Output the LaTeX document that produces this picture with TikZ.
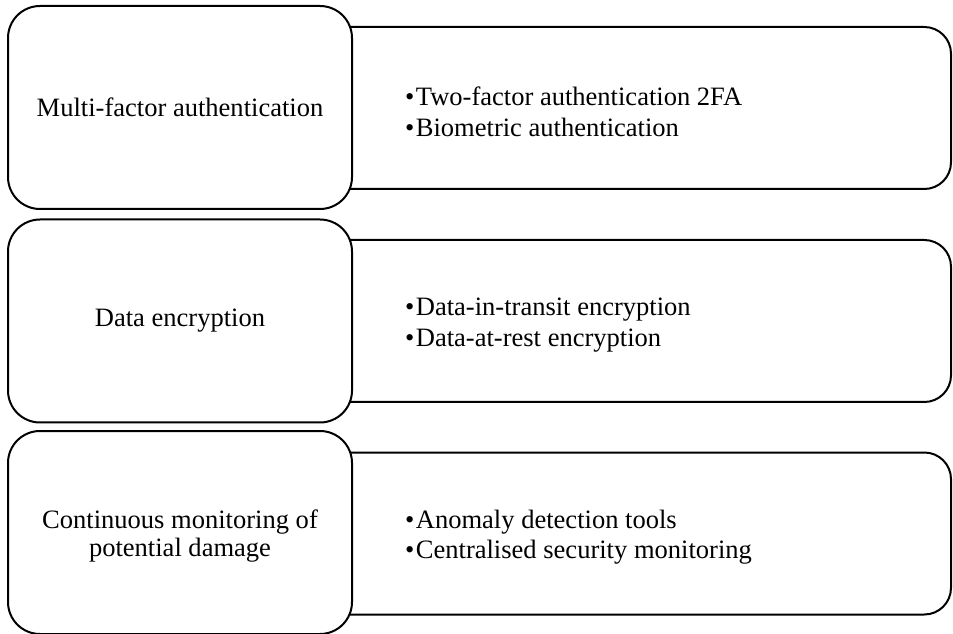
\documentclass[tikz,border=0pt]{standalone}
\usepackage{fontspec}
\setmainfont{Liberation Serif}
\begin{document}
\begin{tikzpicture}[x=0.75pt,y=-0.75pt,
  line width=1.5pt,
  leftbox/.style={draw=black, fill=white, rounded corners=24pt, minimum width=258pt, minimum height=152.25pt, align=center, inner sep=0pt, font=\fontsize{19.9}{20.5}\selectfont},
  rightbox/.style={draw=black, fill=white, rounded corners=20pt, minimum width=488.25pt, minimum height=121.5pt, inner sep=0pt},
  bullets/.style={anchor=west, align=left, inner sep=0pt, font=\fontsize{19.9}{23}\selectfont}]
\useasboundingbox (0,0) rectangle (953,634);
% right boxes (left part hidden behind the left boxes)
\node[rightbox] (r1) at (625.5,108) {};
\node[rightbox] (r2) at (625.5,321) {};
\node[rightbox] (r3) at (625.5,533.5) {};
% left boxes
\node[leftbox] (l1) at (180,107.5) {Multi-factor authentication};
\node[leftbox] (l2) at (180,321) {Data encryption};
\node[leftbox] (l3) at (180,532.5) {};
\node[align=center, inner sep=0pt, font=\fontsize{19.9}{20.5}\selectfont] (l3t) at (180,536) {Continuous monitoring of\\potential damage};
% bullet texts
\node[bullets] (t1) at (404,112) {•\hspace{1.2pt}Two-factor authentication 2FA\\•\hspace{1.2pt}Biometric authentication};
\node[bullets] (t2) at (404,325) {•\hspace{1.2pt}Data-in-transit encryption\\•\hspace{1.2pt}Data-at-rest encryption};
\node[bullets] (t3) at (404,537) {•\hspace{1.2pt}Anomaly detection tools\\•\hspace{1.2pt}Centralised security monitoring};
\end{tikzpicture}
\end{document}
